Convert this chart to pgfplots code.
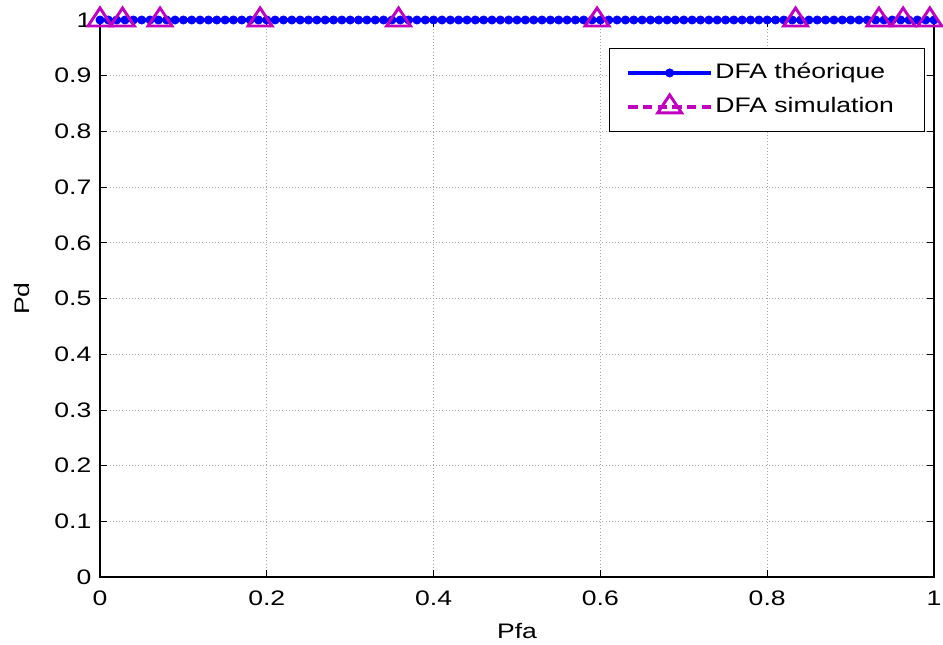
\documentclass[border=0pt]{standalone}
\usepackage{pgfplots}
\pgfplotsset{compat=1.18}
\usepackage{fontspec}
\setmainfont[FakeStretch=1.265]{Liberation Sans}
\definecolor{mblue}{rgb}{0,0,1}
\definecolor{mmag}{rgb}{0.75,0,0.75}
\begin{document}
\fontsize{15.75pt}{19pt}\selectfont
\begin{tikzpicture}
\useasboundingbox (-75pt,-50.25pt) rectangle (632.25pt,432.75pt);
\begin{axis}[
  scale only axis,
  width=625.5pt, height=417.75pt,
  xmin=0, xmax=1, ymin=0, ymax=1,
  xtick={0,0.2,0.4,0.6,0.8,1},
  ytick={0,0.1,0.2,0.3,0.4,0.5,0.6,0.7,0.8,0.9,1},
  /pgf/number format/assume math mode=true,
  /pgf/number format/fixed, /pgf/number format/precision=1,
  tick align=inside,
  tick pos=both,
  major tick length=5pt,
  tick style={black, line width=0.6pt},
  axis line style={black, line width=0.8pt},
  grid=major,
  major grid style={gray!70, dotted, line width=0.5pt},
  ticklabel style={font=\fontsize{15.75pt}{19pt}\selectfont},
  xticklabel style={yshift=-5pt},
  yticklabel style={xshift=-1pt},
  xlabel={Pfa}, ylabel={Pd},
  label style={font=\fontsize{15.75pt}{19pt}\selectfont},
  xlabel style={at={(0.5,0)}, anchor=base, yshift=-46pt},
  ylabel style={at={(0,0.5)}, anchor=base, yshift=53pt},
  clip=false,
  legend cell align=left,
  legend style={at={(0.9892,0.9497)}, anchor=north east, draw=black,
     fill=white, font=\fontsize{15.75pt}{19pt}\selectfont,
     inner xsep=12.75pt, inner ysep=9pt, row sep=6.5pt, column sep=0pt,
     nodes={inner sep=2pt, text height=11.5pt, text depth=3.5pt}},
  legend image code/.code={%
     \draw[mark repeat=2, mark phase=2] plot coordinates {(0pt,0pt) (31pt,0pt) (62pt,0pt)};
     \hspace*{6pt}},
]
\addplot[mblue, line width=2.6pt, mark=*, mark size=3.1pt, mark options={solid, fill=mblue, line width=0.5pt},
  legend image post style={line width=2.6pt}]
coordinates {
(0,1)(0.01,1)(0.02,1)(0.03,1)(0.04,1)(0.05,1)(0.06,1)(0.07,1)(0.08,1)(0.09,1)
(0.10,1)(0.11,1)(0.12,1)(0.13,1)(0.14,1)(0.15,1)(0.16,1)(0.17,1)(0.18,1)(0.19,1)
(0.20,1)(0.21,1)(0.22,1)(0.23,1)(0.24,1)(0.25,1)(0.26,1)(0.27,1)(0.28,1)(0.29,1)
(0.30,1)(0.31,1)(0.32,1)(0.33,1)(0.34,1)(0.35,1)(0.36,1)(0.37,1)(0.38,1)(0.39,1)
(0.40,1)(0.41,1)(0.42,1)(0.43,1)(0.44,1)(0.45,1)(0.46,1)(0.47,1)(0.48,1)(0.49,1)
(0.50,1)(0.51,1)(0.52,1)(0.53,1)(0.54,1)(0.55,1)(0.56,1)(0.57,1)(0.58,1)(0.59,1)
(0.60,1)(0.61,1)(0.62,1)(0.63,1)(0.64,1)(0.65,1)(0.66,1)(0.67,1)(0.68,1)(0.69,1)
(0.70,1)(0.71,1)(0.72,1)(0.73,1)(0.74,1)(0.75,1)(0.76,1)(0.77,1)(0.78,1)(0.79,1)
(0.80,1)(0.81,1)(0.82,1)(0.83,1)(0.84,1)(0.85,1)(0.86,1)(0.87,1)(0.88,1)(0.89,1)
(0.90,1)(0.91,1)(0.92,1)(0.93,1)(0.94,1)(0.95,1)(0.96,1)(0.97,1)(0.98,1)(0.99,1)
(1.00,1)};
\addlegendentry{DFA théorique\hspace*{8.25pt}}
\addplot[mmag, line width=2.4pt, dash pattern=on 7pt off 4pt, mark=triangle, mark size=9pt,
  mark options={solid, line width=2.2pt, xscale=1.15},
  legend image post style={line width=2.4pt}]
coordinates {
(0,1)(0.027,1)(0.072,1)(0.192,1)(0.358,1)(0.596,1)(0.834,1)(0.934,1)(0.963,1)(0.995,1)};
\addlegendentry{DFA simulation\hspace*{8.25pt}}
\end{axis}
\end{tikzpicture}
\end{document}
